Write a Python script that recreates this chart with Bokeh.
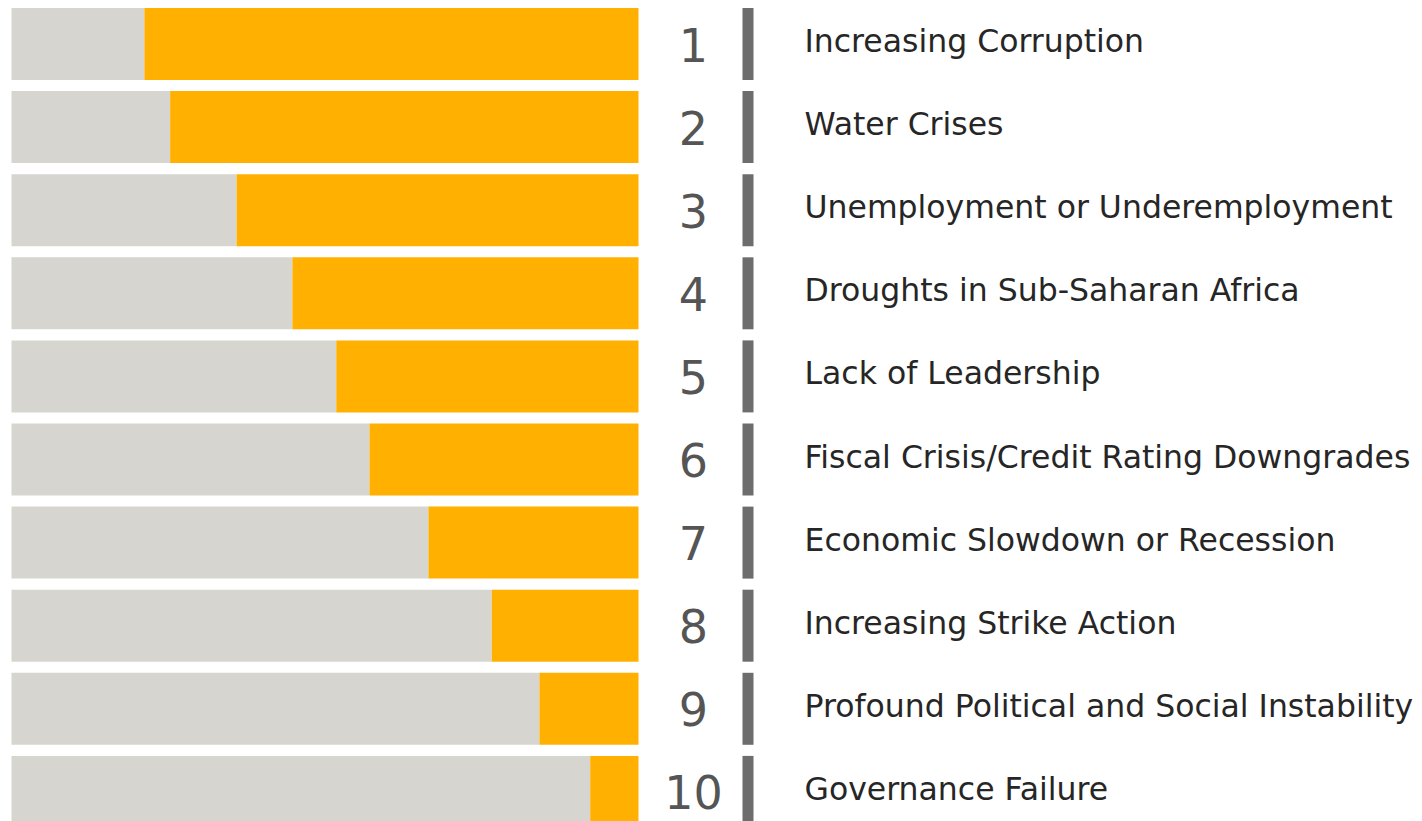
from bokeh.plotting import figure
from bokeh.models import Range1d, ColumnDataSource
from bokeh.core.properties import value
from bokeh.embed import file_html
from bokeh.resources import INLINE

ranks = [1, 2, 3, 4, 5, 6, 7, 8, 9, 10]
rank_labels = ["1", "2", "3", "4", "5", "6", "7", "8", "9", "10"]
risks = [
    "Increasing Corruption",
    "Water Crises",
    "Unemployment or Underemployment",
    "Droughts in Sub-Saharan Africa",
    "Lack of Leadership",
    "Fiscal Crisis/Credit Rating Downgrades",
    "Economic Slowdown or Recession",
    "Increasing Strike Action",
    "Profound Political and Social Instability",
    "Governance Failure",
]
grey_part = [21.2, 25.3, 35.9, 44.8, 51.8, 57.1, 66.5, 76.6, 84.2, 92.3]
total = [100] * 10

W, H = 1422, 821
px_per_unit_x = 6.27
x0 = -11 / px_per_unit_x
x1 = (W - 11) / px_per_unit_x
pitch = 83.1
y_top = 1 - 43.5 / pitch
y_bot = 1 + (H - 43.5) / pitch

src = ColumnDataSource(dict(
    rank=ranks, rl=rank_labels, risk=risks, grey=grey_part, total=total,
    num_x=[(693 - 11) / px_per_unit_x] * 10,
    line_x=[(747.5 - 11) / px_per_unit_x] * 10,
    lab_x=[(804 - 11) / px_per_unit_x] * 10,
    zero=[0] * 10,
    lab_y=[r - 3.0 / pitch for r in ranks],
    num_y=[r + 0.5 / pitch for r in ranks],
))

p = figure(width=W, height=H, x_range=Range1d(x0, x1), y_range=Range1d(y_bot, y_top),
           output_backend="svg", toolbar_location=None, min_border=0,
           background_fill_color="white", border_fill_color="white")
p.axis.visible = False
p.grid.visible = False
p.outline_line_color = None

bh = 72 / pitch
p.hbar(y="rank", left="zero", right="grey", height=bh, source=src,
       fill_color="#d6d5d0", line_color=None)
p.hbar(y="rank", left="grey", right="total", height=bh, source=src,
       fill_color="#ffb000", line_color=None)
# vertical separators
lw = 11 / px_per_unit_x
p.rect(x="line_x", y="rank", width=lw, height=bh, source=src,
       fill_color="#6d6d6d", line_color=None)

p.text(x="num_x", y="num_y", text="rl", source=src, text_align="center",
       text_baseline="middle", text_font=value("DejaVu Sans"), text_font_size="46px",
       text_color="#555555")
p.text(x="lab_x", y="lab_y", text="risk", source=src, text_align="left",
       text_baseline="middle", text_font=value("DejaVu Sans"), text_font_size="31.5px",
       text_color="#262626")

open("out.html", "w").write(file_html(p, INLINE))
